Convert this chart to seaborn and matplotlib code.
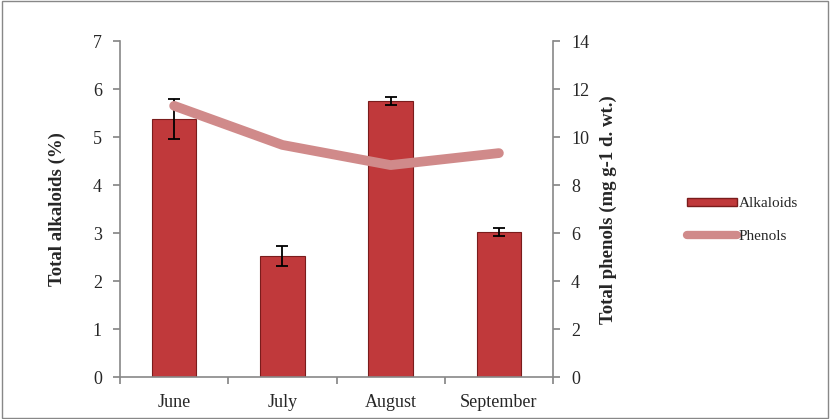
import matplotlib
matplotlib.use("Agg")
import matplotlib.pyplot as plt
import seaborn as sns
import numpy as np
from matplotlib.lines import Line2D
from matplotlib.patches import Patch, Rectangle

months = ["June", "July", "August", "September"]
alkaloids = [5.38, 2.52, 5.75, 3.02]
alk_err = [0.42, 0.2, 0.08, 0.09]
phenols = [11.3, 9.67, 8.83, 9.33]
left_ticks = [0, 1, 2, 3, 4, 5, 6, 7]
right_ticks = [0, 2, 4, 6, 8, 10, 12, 14]

sns.set_theme(style="white")
plt.rcParams['font.family'] = ['Liberation Serif', 'DejaVu Serif']

fig = plt.figure(figsize=(8.3, 4.19), dpi=100)
ax = fig.add_axes([0.1446, 0.1002, 0.5217, 0.8019])

bar_color = "#C0393B"
sns.barplot(x=months, y=alkaloids, ax=ax, width=0.41, color=bar_color,
            edgecolor="#7A1C1C", linewidth=0.8, saturation=1)
ax.errorbar(x=np.arange(len(months)), y=alkaloids, yerr=alk_err, fmt="none",
            ecolor="black", elinewidth=1.3, capsize=4.5, capthick=1.3, zorder=5)

ax.set_ylim(0, 7)
ax.set_yticks(left_ticks)
ax.set_xlim(-0.5, 3.5)
ax.set_xticks(np.arange(-0.5, 4.0, 1.0), minor=False)
ax.set_xticklabels([])
ax.set_xticks(np.arange(len(months)), minor=True)
ax.set_xticklabels(months, minor=True)
ax.tick_params(axis="x", which="major", length=5, direction="out", color="#888888", bottom=True)
ax.tick_params(axis="x", which="minor", length=0, labelsize=13, pad=12)
ax.tick_params(axis="y", length=5, direction="out", color="#888888", labelsize=13, left=True, pad=8)
ax.set_ylabel("")
ax.set_xlabel("")
fig.text(0.069, 0.50, "Total alkaloids (%)", rotation=90, fontsize=13.5,
         fontweight="bold", ha="center", va="center")

ax2 = ax.twinx()
sns.lineplot(x=np.arange(len(months)), y=phenols, ax=ax2, color="#D08A8A",
             linewidth=7, sort=False, solid_capstyle="round", solid_joinstyle="round")
ax2.set_ylim(0, 14)
ax2.set_yticks(right_ticks)
ax2.tick_params(axis="y", length=5, direction="out", color="#888888", labelsize=13, right=True, pad=8)
ax2.set_ylabel("")
fig.text(0.733, 0.50, "Total phenols (mg g-1 d. wt.)", rotation=90, fontsize=13.5,
         fontweight="bold", ha="center", va="center")

for a in (ax, ax2):
    for s in ["left", "right", "bottom"]:
        a.spines[s].set_color("#888888")
        a.spines[s].set_linewidth(1.2)
    a.spines["top"].set_visible(False)
ax.spines["right"].set_visible(False)
ax2.spines["left"].set_visible(False)
ax2.spines["bottom"].set_visible(False)

handles = [Patch(facecolor=bar_color, edgecolor="#7A1C1C"),
           Line2D([0], [0], color="#D08A8A", linewidth=6, solid_capstyle="round")]
fig.legend(handles, ["Alkaloids", "Phenols"], loc="center left",
           bbox_to_anchor=(0.811, 0.475), frameon=False, fontsize=11,
           handlelength=3.3, handleheight=0.5, labelspacing=1.25, handletextpad=0.1)

fig.patches.append(Rectangle((0.002, 0.002), 0.996, 0.996, transform=fig.transFigure,
                             fill=False, edgecolor="#888888", linewidth=1))

fig.savefig("out.png", dpi=100)
